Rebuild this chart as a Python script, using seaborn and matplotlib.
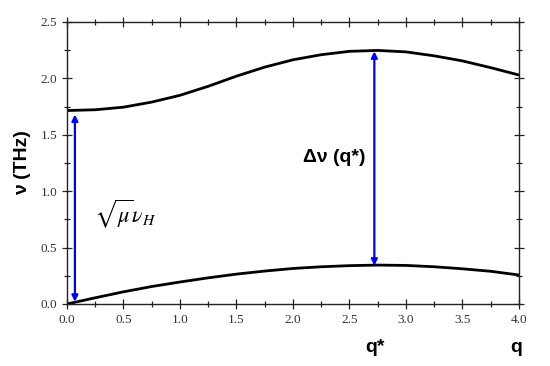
import numpy as np
import pandas as pd
import matplotlib
matplotlib.use("Agg")
import matplotlib.pyplot as plt
import seaborn as sns

# wave vector q and the two branches (THz)
q = [0.0, 0.25, 0.5, 0.75, 1.0, 1.25, 1.5, 1.75, 2.0, 2.25, 2.5, 2.75, 3.0, 3.25, 3.5, 3.75, 4.0]
nu_upper = [1.715, 1.722, 1.745, 1.79, 1.85, 1.93, 2.02, 2.10, 2.165, 2.21, 2.24, 2.248,
            2.235, 2.20, 2.155, 2.095, 2.03]
nu_lower = [0.0, 0.055, 0.108, 0.155, 0.195, 0.232, 0.265, 0.292, 0.315, 0.33, 0.34, 0.345,
            0.342, 0.33, 0.312, 0.29, 0.257]

# gap arrows: (q, bottom, top)
gap_q0 = (0.07, 0.02, 1.68)
gap_qstar = (2.72, 0.34, 2.24)

sns.set_style("ticks")
plt.rcParams["font.family"] = ["Liberation Serif", "DejaVu Serif"]
plt.rcParams["mathtext.fontset"] = "stix"
plt.rcParams["text.color"] = "black"

df = pd.DataFrame({"q": q + q,
                   "nu": nu_upper + nu_lower,
                   "branch": ["upper"] * len(q) + ["lower"] * len(q)})

fig = plt.figure(figsize=(5.5, 3.66), dpi=100)
ax = fig.add_axes([0.1218, 0.1694, 0.8218, 0.7705])

sns.lineplot(data=df, x="q", y="nu", units="branch", estimator=None,
             color="black", lw=2.0, ax=ax, legend=False)

for xq, y0, y1 in (gap_q0, gap_qstar):
    ax.annotate("", xy=(xq, y1), xytext=(xq, y0),
                arrowprops=dict(arrowstyle="<|-|>", color="#0000ff", lw=1.6,
                                mutation_scale=9, shrinkA=0, shrinkB=0))

ax.set_xlim(0, 4.0)
ax.set_ylim(0, 2.5)
ax.set_xticks(np.arange(0, 4.01, 0.5))
ax.set_yticks(np.arange(0, 2.51, 0.5))
ax.set_xticks(np.arange(0, 4.01, 0.25), minor=True)
ax.set_yticks(np.arange(0, 2.51, 0.25), minor=True)
ax.xaxis.set_major_formatter(matplotlib.ticker.FormatStrFormatter("%.1f"))
ax.yaxis.set_major_formatter(matplotlib.ticker.FormatStrFormatter("%.1f"))
ax.tick_params(which="both", direction="inout", top=True, right=True,
               labelsize=9.5, colors="#222222", labelcolor="#333333", width=0.9)
ax.tick_params(which="major", length=7)
ax.tick_params(which="minor", length=4)
for s in ax.spines.values():
    s.set_linewidth(1.0)
    s.set_color("#222222")
ax.set_xlabel("")
ax.set_ylabel("ν (THz)", fontsize=14, fontweight="bold", color="black",
              family=["Liberation Sans", "DejaVu Sans"], labelpad=7)

ax.text(0.24, 0.80, r"$\sqrt{\mu}\nu_H$", fontsize=16, ha="left", va="center", color="black")
ax.text(2.64, 1.30, "Δν (q*)", fontsize=14, fontweight="bold", ha="right", va="center",
        color="black", family=["Liberation Sans", "DejaVu Sans"])
fig.text(375 / 550, 1 - 347 / 366, "q*", fontsize=14, fontweight="bold", ha="center",
         va="center", color="black", family=["Liberation Sans", "DejaVu Sans"])
fig.text(516 / 550, 1 - 347 / 366, "q", fontsize=14, fontweight="bold", ha="center",
         va="center", color="black", family=["Liberation Sans", "DejaVu Sans"])

fig.savefig("out.png", dpi=100)
